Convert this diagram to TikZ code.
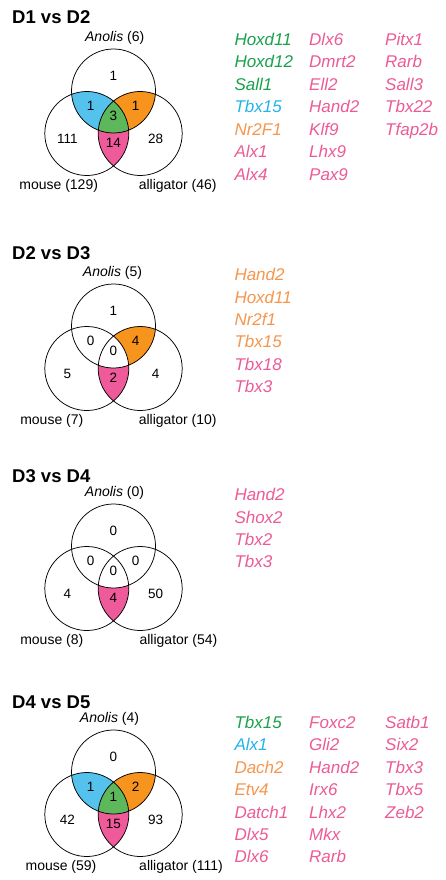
\documentclass[tikz,border=0pt]{standalone}
\usepackage{fontspec}
\setmainfont{Liberation Sans}
\definecolor{fblue}{HTML}{55C2EE}
\definecolor{forange}{HTML}{F7941D}
\definecolor{fgreen}{HTML}{5DB85B}
\definecolor{fpink}{HTML}{EE5A9A}
\definecolor{tgreen}{HTML}{1AA24B}
\definecolor{tcyan}{HTML}{22B4EA}
\definecolor{torange}{HTML}{F6964E}
\definecolor{tpink}{HTML}{EC5B95}
\tikzset{
  ttl/.style={anchor=base west, inner sep=0pt, font=\fontsize{18.5}{20}\selectfont\bfseries},
  vlab/.style={anchor=base, inner sep=0pt, font=\fontsize{14}{16}\selectfont},
  vnum/.style={anchor=center, inner sep=0pt, font=\fontsize{13.5}{15}\selectfont},
  gene/.style={anchor=base west, inner sep=0pt, font=\fontsize{17}{20}\selectfont\itshape},
  ring/.style={draw=black, line width=0.75pt},
}
% three-set Venn diagram: #1 prefix, fills for AnolisxMouse, AnolisxAlligator,
% MousexAlligator, all three
\newcommand\vennsets[5]{%
  \coordinate (#1T) at (113.5,91);
  \coordinate (#1L) at (86.8,133.5);
  \coordinate (#1R) at (140.2,133.5);
  \begin{scope}\clip (#1T) circle[radius=42pt]; \fill[#2] (#1L) circle[radius=42pt];\end{scope}
  \begin{scope}\clip (#1T) circle[radius=42pt]; \fill[#3] (#1R) circle[radius=42pt];\end{scope}
  \begin{scope}\clip (#1L) circle[radius=42pt]; \fill[#4] (#1R) circle[radius=42pt];\end{scope}
  \begin{scope}\clip (#1T) circle[radius=42pt]; \clip (#1L) circle[radius=42pt];
    \fill[#5] (#1R) circle[radius=42pt];\end{scope}
  \draw[ring] (#1T) circle[radius=42pt];
  \draw[ring] (#1L) circle[radius=42pt];
  \draw[ring] (#1R) circle[radius=42pt];
}
% region counts: top, top-left, centre, top-right, left, bottom, right
\newcommand\vennnums[8]{%
  \node[vnum] (#1n1) at (113.3,75.5) {#2};
  \node[vnum] (#1n2) at (90.7,105.5) {#3};
  \node[vnum] (#1n3) at (113.3,115.5) {#4};
  \node[vnum] (#1n4) at (135.7,105.5) {#5};
  \node[vnum] (#1n5) at (67.3,139) {#6};
  \node[vnum] (#1n6) at (113.3,143) {#7};
  \node[vnum] (#1n7) at (155.7,139) {#8};
}
\begin{document}
\begin{tikzpicture}[x=1pt,y=-1pt]
\path[use as bounding box, fill=white] (0,0) rectangle (445,880);

% ---------------- D1 vs D2 ----------------
\begin{scope}
  \node[ttl] (t1) at (12,24) {D1 vs D2};
  \vennsets{a}{fblue}{forange}{fpink}{fgreen}
  \vennnums{a}{1}{1}{3}{1}{111}{14}{28}
  \node[vlab] (a-an) at (114.7,41.5) {\textit{Anolis} (6)};
  \node[vlab] (a-mo) at (58.7,189.5) {mouse (129)};
  \node[vlab] (a-al) at (177.7,189.5) {alligator (46)};
\end{scope}
\begin{scope}[shift={(0,45.6)}]
  \node[gene, text=tgreen] (g1a) at (234.3,0) {Hoxd11};
  \node[gene, text=tgreen] (g1b) at (234.3,22.4) {Hoxd12};
  \node[gene, text=tgreen] (g1c) at (234.3,44.8) {Sall1};
  \node[gene, text=tcyan] (g1d) at (234.3,67.2) {Tbx15};
  \node[gene, text=torange] (g1e) at (234.3,89.6) {Nr2F1};
  \node[gene, text=tpink] (g1f) at (234.3,112) {Alx1};
  \node[gene, text=tpink] (g1g) at (234.3,134.4) {Alx4};
  \node[gene, text=tpink] (g1h) at (309,0) {Dlx6};
  \node[gene, text=tpink] (g1i) at (309,22.4) {Dmrt2};
  \node[gene, text=tpink] (g1j) at (309,44.8) {Ell2};
  \node[gene, text=tpink] (g1k) at (309,67.2) {Hand2};
  \node[gene, text=tpink] (g1l) at (309,89.6) {Klf9};
  \node[gene, text=tpink] (g1m) at (309,112) {Lhx9};
  \node[gene, text=tpink] (g1n) at (309,134.4) {Pax9};
  \node[gene, text=tpink] (g1o) at (385,0) {Pitx1};
  \node[gene, text=tpink] (g1p) at (385,22.4) {Rarb};
  \node[gene, text=tpink] (g1q) at (385,44.8) {Sall3};
  \node[gene, text=tpink] (g1r) at (385,67.2) {Tbx22};
  \node[gene, text=tpink] (g1s) at (385,89.6) {Tfap2b};
\end{scope}

% ---------------- D2 vs D3 ----------------
\node[ttl] (t2) at (12,259.5) {D2 vs D3};
\begin{scope}[shift={(0,235)}]
  \vennsets{b}{white}{forange}{fpink}{white}
  \vennnums{b}{1}{0}{0}{4}{5}{2}{4}
  \node[vlab] (b-an) at (112.5,41.5) {\textit{Anolis} (5)};
  \node[vlab] (b-mo) at (51.8,189.5) {mouse (7)};
  \node[vlab] (b-al) at (177.7,189.5) {alligator (10)};
\end{scope}
\begin{scope}[shift={(0,280.6)}]
  \node[gene, text=torange] (g2a) at (234.3,0) {Hand2};
  \node[gene, text=torange] (g2b) at (234.3,22.4) {Hoxd11};
  \node[gene, text=torange] (g2c) at (234.3,44.8) {Nr2f1};
  \node[gene, text=torange] (g2d) at (234.3,67.2) {Tbx15};
  \node[gene, text=tpink] (g2e) at (234.3,89.6) {Tbx18};
  \node[gene, text=tpink] (g2f) at (234.3,112) {Tbx3};
\end{scope}

% ---------------- D3 vs D4 ----------------
\node[ttl] (t3) at (12,482) {D3 vs D4};
\begin{scope}[shift={(0,455)}]
  \vennsets{c}{white}{white}{fpink}{white}
  \vennnums{c}{0}{0}{0}{0}{4}{4}{50}
  \node[vlab] (c-an) at (114.5,41.5) {\textit{Anolis} (0)};
  \node[vlab] (c-mo) at (51.8,189.5) {mouse (8)};
  \node[vlab] (c-al) at (178.5,189.5) {alligator (54)};
\end{scope}
\begin{scope}[shift={(0,500.6)}]
  \node[gene, text=tpink] (g3a) at (234.3,0) {Hand2};
  \node[gene, text=tpink] (g3b) at (234.3,22.4) {Shox2};
  \node[gene, text=tpink] (g3c) at (234.3,44.8) {Tbx2};
  \node[gene, text=tpink] (g3d) at (234.3,67.2) {Tbx3};
\end{scope}

% ---------------- D4 vs D5 ----------------
\node[ttl] (t4) at (12,708) {D4 vs D5};
\begin{scope}[shift={(0,681)}]
  \vennsets{d}{fblue}{forange}{fpink}{fgreen}
  \vennnums{d}{0}{1}{1}{2}{42}{15}{93}
  \node[vlab] (d-an) at (109.5,41.5) {\textit{Anolis} (4)};
  \node[vlab] (d-mo) at (61,189.5) {mouse (59)};
  \node[vlab] (d-al) at (181,189.5) {alligator (111)};
\end{scope}
\begin{scope}[shift={(0,728.5)}]
  \node[gene, text=tgreen] (g4a) at (234.3,0) {Tbx15};
  \node[gene, text=tcyan] (g4b) at (234.3,22.4) {Alx1};
  \node[gene, text=torange] (g4c) at (234.3,44.8) {Dach2};
  \node[gene, text=torange] (g4d) at (234.3,67.2) {Etv4};
  \node[gene, text=tpink] (g4e) at (234.3,89.6) {Datch1};
  \node[gene, text=tpink] (g4f) at (234.3,112) {Dlx5};
  \node[gene, text=tpink] (g4g) at (234.3,134.4) {Dlx6};
  \node[gene, text=tpink] (g4h) at (309,0) {Foxc2};
  \node[gene, text=tpink] (g4i) at (309,22.4) {Gli2};
  \node[gene, text=tpink] (g4j) at (309,44.8) {Hand2};
  \node[gene, text=tpink] (g4k) at (309,67.2) {Irx6};
  \node[gene, text=tpink] (g4l) at (309,89.6) {Lhx2};
  \node[gene, text=tpink] (g4m) at (309,112) {Mkx};
  \node[gene, text=tpink] (g4n) at (309,134.4) {Rarb};
  \node[gene, text=tpink] (g4o) at (385,0) {Satb1};
  \node[gene, text=tpink] (g4p) at (385,22.4) {Six2};
  \node[gene, text=tpink] (g4q) at (385,44.8) {Tbx3};
  \node[gene, text=tpink] (g4r) at (385,67.2) {Tbx5};
  \node[gene, text=tpink] (g4s) at (385,89.6) {Zeb2};
\end{scope}
\end{tikzpicture}
\end{document}
